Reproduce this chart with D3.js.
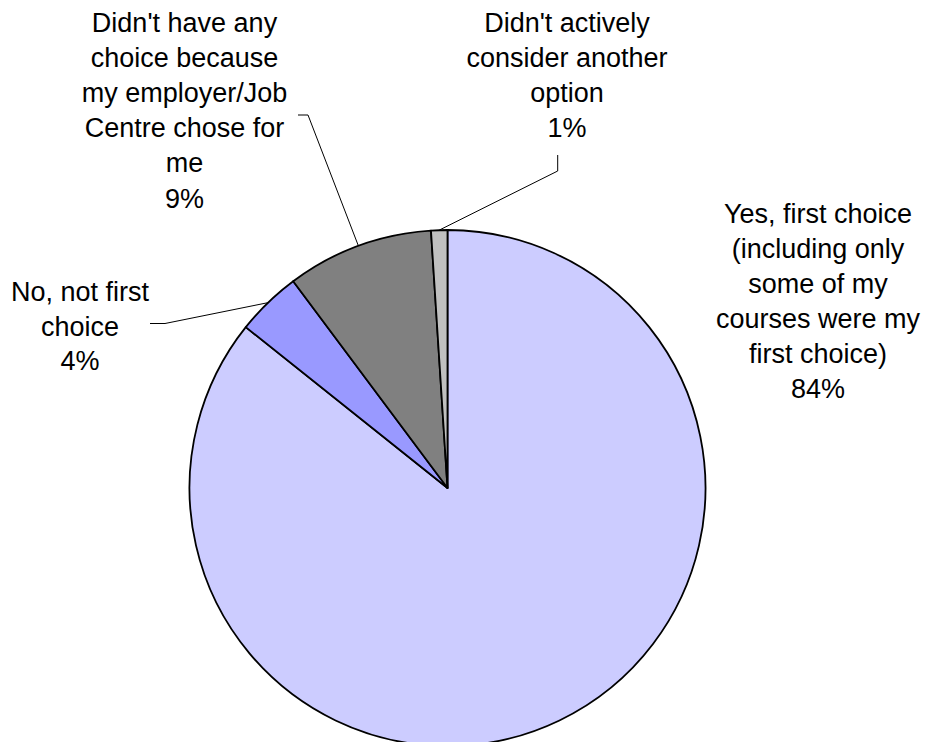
<!DOCTYPE html>
<html>
<head>
<meta charset="utf-8">
<script src="https://cdn.jsdelivr.net/npm/d3@7"></script>
<style>
  html, body { margin: 0; padding: 0; background: #fff; }
  svg { display: block; }
</style>
</head>
<body>
<svg id="chart" width="928" height="742"></svg>
<script>
// ---- data ----
const categories = [
  "Yes, first choice (including only some of my courses were my first choice)",
  "No, not first choice",
  "Didn't have any choice because my employer/Job Centre chose for me",
  "Didn't actively consider another option"
];
const values = [84, 4, 9, 1];
const percentLabels = ["84%", "4%", "9%", "1%"];
const labelLines = [
  ["Yes, first choice", "(including only", "some of my", "courses were my", "first choice)"],
  ["No, not first", "choice"],
  ["Didn't have any", "choice because", "my employer/Job", "Centre chose for", "me"],
  ["Didn't actively", "consider another", "option"]
];

// ---- layout / style ----
const W = 928, H = 742;
const cx = 447.5, cy = 488, R = 258;
const colors = ["#CCCCFF", "#9999FF", "#808080", "#C0C0C0"];
const fontSize = 27;
// label block anchors: center x, first baseline y, line spacing
const labelLayout = [
  { x: 818, y: 223, dy: 35 },
  { x: 80, y: 301, dy: 34.5 },
  { x: 184.5, y: 31.5, dy: 35.2 },
  { x: 567, y: 31.5, dy: 35.2 }
];
// leader elbows: [horizontal start, elbow]
const leaderLayout = [
  null,
  [[150, 323.5], [165, 323.5]],
  [[298, 115], [308, 115]],
  [[557.7, 155], [557.7, 171]]
];

const svg = d3.select("#chart");
const g = svg.append("g").attr("transform", `translate(${cx},${cy})`);

const pie = d3.pie().sort(null).value(d => d)
  .startAngle(0).endAngle(2 * Math.PI);
const arcs = pie(values);
const arc = d3.arc().innerRadius(0).outerRadius(R);

g.selectAll("path.slice")
  .data(arcs)
  .join("path")
  .attr("class", "slice")
  .attr("d", arc)
  .attr("fill", (d, i) => colors[i])
  .attr("stroke", "#000")
  .attr("stroke-width", 1.8)
  .attr("stroke-linejoin", "round");

// leader lines
arcs.forEach((d, i) => {
  const lay = leaderLayout[i];
  if (!lay) return;
  const mid = (d.startAngle + d.endAngle) / 2;
  const px = cx + R * Math.sin(mid);
  const py = cy - R * Math.cos(mid);
  const pts = [lay[0], lay[1], [px, py]];
  svg.append("path")
    .attr("d", d3.line()(pts))
    .attr("fill", "none")
    .attr("stroke", "#000")
    .attr("stroke-width", 1);
});

// labels
arcs.forEach((d, i) => {
  const lay = labelLayout[i];
  const lines = labelLines[i].concat([percentLabels[i]]);
  const t = svg.append("text")
    .attr("text-anchor", "middle")
    .attr("font-family", "'Liberation Sans', Arial, Helvetica, sans-serif")
    .attr("font-size", fontSize)
    .attr("fill", "#000");
  lines.forEach((ln, k) => {
    t.append("tspan")
      .attr("x", lay.x)
      .attr("y", lay.y + k * lay.dy)
      .text(ln);
  });
});
</script>
</body>
</html>
